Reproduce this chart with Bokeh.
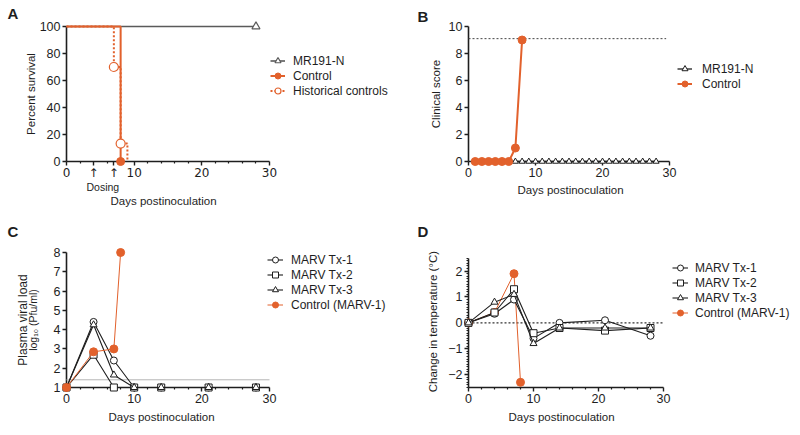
from bokeh.plotting import figure
from bokeh.layouts import row, column
from bokeh.models import Range1d, FixedTicker, Legend, LegendItem, Title
from bokeh.embed import file_html
from bokeh.resources import INLINE

FONT = "Liberation Sans"
ARROW_FONT = "DejaVu Sans"
ORANGE = "#E2612C"
DARK = "#1e1e1e"
GRAY = "#5a5a5a"

# ---------------- Panel A: survival ----------------
a_mr_days = [0, 28]
a_mr_surv = [100, 100]
a_ctrl_days = [0, 8]
a_ctrl_surv = [100, 0]
a_hist_days = [0, 7, 8, 9]
a_hist_surv = [100, 70, 13.3, 0]
a_mr_mark_days = [28]
a_mr_mark = [100]
a_ctrl_mark_days = [8]
a_ctrl_mark = [0]
a_hist_mark_days = [7, 8]
a_hist_mark = [70, 13.3]
dosing_days = [4, 7]

# ---------------- Panel B: clinical score ----------------
b_mr_days = [1, 2, 3, 4, 5, 6, 7, 8, 9, 10, 11, 12, 13, 14, 15, 16, 17, 18, 19, 20,
             21, 22, 23, 24, 25, 26, 27, 28]
b_mr_score = [0, 0, 0, 0, 0, 0, 0, 0, 0, 0, 0, 0, 0, 0, 0, 0, 0, 0, 0, 0,
              0, 0, 0, 0, 0, 0, 0, 0]
b_ctrl_days = [1, 2, 3, 4, 5, 6, 7, 8]
b_ctrl_score = [0, 0, 0, 0, 0, 0, 1, 9]
b_endpoint_days = [0, 29.5]
b_endpoint_score = [9.1, 9.1]

# ---------------- Panel C: viral load ----------------
c_days = [0, 4, 7, 10, 14, 21, 28]
c_tx1 = [1, 4.4, 2.4, 1, 1, 1, 1]
c_tx2 = [1, 2.7, 1, 1, 1, 1, 1]
c_tx3 = [1, 4.25, 1.65, 1, 1, 1, 1]
c_ctrl_days = [0, 4, 7, 8]
c_ctrl = [1, 2.85, 3.0, 8.0]
c_lod_days = [0, 30]
c_lod = [1.4, 1.4]

# ---------------- Panel D: temperature ----------------
d_days = [0, 4, 7, 10, 14, 21, 28]
d_tx1 = [0, 0.35, 0.9, -0.6, 0.0, 0.1, -0.5]
d_tx2 = [0, 0.4, 1.3, -0.4, -0.2, -0.3, -0.2]
d_tx3 = [0, 0.8, 1.1, -0.8, -0.2, -0.2, -0.2]
d_ctrl_days = [0, 4, 7, 8]
d_ctrl = [0, 0.4, 1.9, -2.3]
d_base_days = [0, 30]
d_base = [0, 0]

x_major = [0, 10, 20, 30]
x_minor = [2, 4, 6, 8, 12, 14, 16, 18, 22, 24, 26, 28]
X_END = 30


def make_fig(x_end, yr, fw, fh, left, top, bottom):
    p = figure(x_range=Range1d(0, x_end), y_range=Range1d(*yr),
               frame_width=fw, frame_height=fh,
               min_border_left=left, min_border_top=top, min_border_bottom=bottom,
               min_border_right=0, output_backend="svg", toolbar_location=None)
    p.outline_line_color = None
    p.grid.visible = False
    p.background_fill_color = None
    p.border_fill_color = "white"
    p.xaxis.bounds = (0, X_END)
    return p


def top_level(*rs):
    for r in rs:
        r.level = "overlay"


def style_axis(ax):
    ax.axis_line_color = DARK
    ax.axis_line_width = 1.6
    ax.major_tick_line_color = DARK
    ax.major_tick_line_width = 1.4
    ax.major_tick_out = 4
    ax.major_tick_in = 0
    ax.minor_tick_line_color = DARK
    ax.minor_tick_line_width = 1.2
    ax.minor_tick_out = 2
    ax.minor_tick_in = 0
    ax.major_label_standoff = 2
    ax.major_label_text_font = FONT
    ax.major_label_text_font_size = "12.5px"
    ax.major_label_text_color = DARK
    ax.axis_label_text_font = FONT
    ax.axis_label_text_font_size = "11.5px"
    ax.axis_label_text_font_style = "normal"
    ax.axis_label_text_color = DARK


def style_axes(p, xt, yt, ylabel, yls):
    p.xaxis.ticker = xt
    p.yaxis.ticker = yt
    p.yaxis.axis_label = ylabel
    p.yaxis.axis_label_standoff = yls
    style_axis(p.xaxis[0])
    style_axis(p.yaxis[0])


def add_legend(p, items, loc, gw, standoff):
    leg = Legend(items=items, location=loc, orientation="vertical",
                 label_text_font=FONT, label_text_font_size="12px", label_text_color=DARK,
                 glyph_width=gw, glyph_height=15, label_height=15, label_standoff=standoff,
                 spacing=0, padding=0, margin=0, border_line_color=None,
                 background_fill_alpha=0)
    p.add_layout(leg)


def add_title(p, text, side, align, offset, standoff, size, bold=False, valign="top"):
    p.add_layout(Title(text=text, align=align, offset=offset, standoff=standoff,
                       vertical_align=valign, text_font=FONT, text_font_size=size,
                       text_font_style="bold" if bold else "normal",
                       text_color=DARK), side)


# ---------------- A ----------------
pa = make_fig(X_END * 334 / 203, (0, 100), 334, 135, 66, 26, 51)
add_title(pa, "A", "above", "left", -59, 6, "15px", True)
r_mr_l = pa.step(a_mr_days, a_mr_surv, mode="after", line_color=GRAY, line_width=1.6)
r_mr_m = pa.scatter(a_mr_mark_days, a_mr_mark, marker="triangle", size=8,
                    fill_color="white", line_color=GRAY, line_width=1.2)
r_ct_l = pa.step(a_ctrl_days, a_ctrl_surv, mode="after", line_color=ORANGE, line_width=2)
r_hi_l = pa.step(a_hist_days, a_hist_surv, mode="after", line_color=ORANGE, line_width=2,
                 line_dash="2 2")
r_ct_m = pa.scatter(a_ctrl_mark_days, a_ctrl_mark, marker="circle", size=8,
                    fill_color=ORANGE, line_color=ORANGE)
r_hi_m = pa.scatter(a_hist_mark_days, a_hist_mark, marker="circle", size=9,
                    fill_color="white", line_color=ORANGE, line_width=1.2)
top_level(r_mr_l, r_mr_m, r_ct_l, r_hi_l, r_ct_m, r_hi_m)
a_ticks = sorted(x_major + dosing_days)
style_axes(pa, FixedTicker(ticks=a_ticks, minor_ticks=[t for t in x_minor if t not in dosing_days]),
           FixedTicker(ticks=[0, 20, 40, 60, 80, 100], minor_ticks=[]),
           "Percent survival", 0)
pa.xaxis[0].major_label_overrides = {d: "\u2191\ufe0e" for d in dosing_days}
pa.xaxis[0].major_label_text_font = ARROW_FONT
pa.xaxis[0].major_label_text_font_size = "12px"
pa.xaxis[0].major_label_standoff = 0
add_title(pa, "Dosing", "below", "left", 20, -4, "10.5px")
add_title(pa, "Days postinoculation", "below", "left", 44, 4, "11.5px")
add_legend(pa, [LegendItem(label="MR191-N", renderers=[r_mr_l, r_mr_m]),
                LegendItem(label="Control", renderers=[r_ct_l, r_ct_m]),
                LegendItem(label="Historical controls", renderers=[r_hi_l, r_hi_m])],
           (204, 63), 15, 8)

# ---------------- B ----------------
pb = make_fig(X_END * 332 / 201, (0, 10), 332, 135, 68, 26, 51)
add_title(pb, "B", "above", "left", -51, 0, "15px", True)
r_be = pb.line(b_endpoint_days, b_endpoint_score, line_color="#444444", line_width=1,
               line_dash="2 2")
r_bm_l = pb.line(b_mr_days, b_mr_score, line_color=DARK, line_width=1.3)
r_bm_m = pb.scatter(b_mr_days, b_mr_score, marker="triangle", size=6,
                    fill_color="white", line_color=DARK, line_width=1)
r_bc_l = pb.line(b_ctrl_days, b_ctrl_score, line_color=ORANGE, line_width=2)
r_bc_m = pb.scatter(b_ctrl_days, b_ctrl_score, marker="circle", size=8,
                    fill_color=ORANGE, line_color=ORANGE)
top_level(r_be, r_bm_l, r_bm_m, r_bc_l, r_bc_m)
style_axes(pb, FixedTicker(ticks=x_major, minor_ticks=[]),
           FixedTicker(ticks=[0, 2, 4, 6, 8, 10], minor_ticks=[]),
           "Clinical score", 4)
add_title(pb, "Days postinoculation", "below", "left", 49, 9, "11.5px")
add_legend(pb, [LegendItem(label="MR191-N", renderers=[r_bm_l, r_bm_m]),
                LegendItem(label="Control", renderers=[r_bc_l, r_bc_m])],
           (209, 70), 15, 10)

# ---------------- C ----------------
pc = make_fig(X_END * 334 / 203, (1, 8), 334, 135, 66, 37, 47)
add_title(pc, "C", "above", "left", -59, 21, "15px", True)
r_lod = pc.line(c_lod_days, c_lod, line_color="#b5b5b5", line_width=1)
rc = []
for ys, mk in ((c_tx1, "circle"), (c_tx2, "square"), (c_tx3, "triangle")):
    l = pc.line(c_days, ys, line_color=DARK, line_width=1.1)
    m = pc.scatter(c_days, ys, marker=mk, size=7, fill_color="white",
                   line_color=DARK, line_width=1)
    rc.append((l, m))
rcc_l = pc.line(c_ctrl_days, c_ctrl, line_color=ORANGE, line_width=1)
rcc_m = pc.scatter(c_ctrl_days, c_ctrl, marker="circle", size=8,
                   fill_color=ORANGE, line_color=ORANGE)
top_level(r_lod, *[r for pair in rc for r in pair], rcc_l, rcc_m)
style_axes(pc, FixedTicker(ticks=x_major, minor_ticks=x_minor),
           FixedTicker(ticks=[1, 2, 3, 4, 5, 6, 7, 8], minor_ticks=[]),
           "log\u2081\u2080 (Pfu/ml)", 12)
pc.yaxis[0].axis_label_text_font_size = "10.5px"
add_title(pc, "Plasma viral load", "left", "center", 0, -12, "12px", valign="bottom")
add_title(pc, "Days postinoculation", "below", "left", 42, 10, "11.5px")
add_legend(pc, [LegendItem(label="MARV Tx-1", renderers=list(rc[0])),
                LegendItem(label="MARV Tx-2", renderers=list(rc[1])),
                LegendItem(label="MARV Tx-3", renderers=list(rc[2])),
                LegendItem(label="Control (MARV-1)", renderers=[rcc_l, rcc_m])],
           (201, 75), 16, 8)

# ---------------- D ----------------
pd_ = make_fig(X_END * 332 / 195, (-2.5, 2.72), 332, 135, 68, 37, 47)
add_title(pd_, "D", "above", "left", -51, 21, "15px", True)
r_base = pd_.line(d_base_days, d_base, line_color="#333333", line_width=1.2, line_dash="2 2")
rdc_l = pd_.line(d_ctrl_days, d_ctrl, line_color=ORANGE, line_width=1)
rdc_m = pd_.scatter(d_ctrl_days, d_ctrl, marker="circle", size=8,
                    fill_color=ORANGE, line_color=ORANGE)
rd = []
for ys, mk in ((d_tx1, "circle"), (d_tx2, "square"), (d_tx3, "triangle")):
    l = pd_.line(d_days, ys, line_color=DARK, line_width=1.1)
    m = pd_.scatter(d_days, ys, marker=mk, size=7, fill_color="white",
                    line_color=DARK, line_width=1)
    rd.append((l, m))
top_level(r_base, rdc_l, rdc_m, *[r for pair in rd for r in pair])
style_axes(pd_, FixedTicker(ticks=x_major, minor_ticks=x_minor),
           FixedTicker(ticks=[-2, -1, 0, 1, 2],
                       minor_ticks=[round(-2.5 + 0.1 * i, 1) for i in range(51)]),
           "Change in temperature  (\u00b0C)", 6)
pd_.yaxis[0].bounds = (-2.5, 2.5)
add_title(pd_, "Days postinoculation", "below", "left", 40, 10, "11.5px")
add_legend(pd_, [LegendItem(label="MARV Tx-1", renderers=list(rd[0])),
                 LegendItem(label="MARV Tx-2", renderers=list(rd[1])),
                 LegendItem(label="MARV Tx-3", renderers=list(rd[2])),
                 LegendItem(label="Control (MARV-1)", renderers=[rdc_l, rdc_m])],
           (204, 67), 16, 7)

layout = column(row(pa, pb), row(pc, pd_))
open("out.html", "w").write(file_html(layout, INLINE))
